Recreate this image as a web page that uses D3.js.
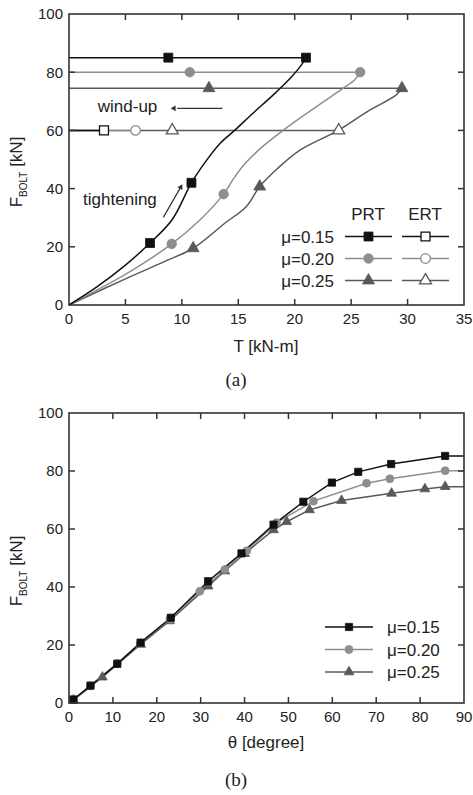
<!DOCTYPE html>
<html>
<head>
<meta charset="utf-8">
<script src="https://cdn.jsdelivr.net/npm/d3@7"></script>
<style>
  html, body { margin: 0; padding: 0; background: #fff; }
  svg { display: block; font-family: "Liberation Sans", Arial, sans-serif; }
</style>
</head>
<body>
<svg width="473" height="795"></svg>
<script>
// ---- data (a): F_BOLT vs T ----
var load15 = [[0,0],[2.5,6.3],[5,13.7],[7.18,21.3],[9.15,29.4],[10.85,42],[12.2,49.8],[13.4,55.6],[14.7,60.1],[16.3,65.9],[18.1,72.2],[19.6,77.9],[20.6,82.5],[21,85]];
var load20 = [[0,0],[2.5,5.2],[5,10.5],[9.1,21],[11.6,29.2],[13.7,38.1],[14.6,43.5],[15.6,48.6],[17.2,54.6],[19,60.1],[21.9,68.1],[24.3,74.5],[25.3,77.3],[25.8,80]];
var load25 = [[0,0],[5,9],[8.5,15],[11,19.5],[13.8,28.1],[15.7,33.8],[16.9,40.7],[18.5,47],[20.5,53.3],[23.9,60.1],[26.4,66.4],[29,72.2],[29.5,74.5]];
var prtMark15 = [[7.18,21.3],[10.85,42],[8.8,85],[21,85]];
var prtMark20 = [[9.1,21],[13.7,38.1],[10.7,80],[25.8,80]];
var prtMark25 = [[11,19.5],[16.9,40.7],[12.4,74.5],[29.5,74.5]];
var peaks = [85, 80, 74.5];
var ert15 = [[0,60],[3.1,60]];
var ert20 = [[0,60],[5.9,60]];
var ert25 = [[0,60],[9.15,60],[23.9,60]];
var ertMark15 = [[3.1,60]];
var ertMark20 = [[5.9,60]];
var ertMark25 = [[9.15,60],[23.9,60]];
var tTicks = [0,5,10,15,20,25,30,35];
var fTicks = [0,20,40,60,80,100];
var muLabels = ["\u03bc=0.15", "\u03bc=0.20", "\u03bc=0.25"];

// ---- data (b): F_BOLT vs theta ----
var th15 = [[1,1.2],[4.9,6],[11,13.5],[16.3,20.8],[23.2,29.4],[31.7,42],[39.3,51.6],[46.6,61.5],[53.4,69.4],[59.9,76],[65.9,79.7],[73.4,82.4],[85.7,85.2]];
var th20 = [[1,1.2],[4.9,5.9],[11,13.7],[16.3,20.6],[23,29],[29.8,38.5],[35.5,46],[40.5,52.5],[47.3,62.2],[55.7,69.6],[67.8,75.8],[73.1,77.3],[85.7,80.1]];
var th25 = [[1,1],[7.6,8.9],[16.3,20.2],[22.9,28.3],[31.7,40.3],[35.5,45.5],[40,51.5],[46.6,59.7],[49.6,62.5],[54.8,66.6],[62.1,69.8],[73.5,72.3],[81.1,73.8],[85.7,74.6]];
var thEnd = 90;
var thTicks = [0,10,20,30,40,50,60,70,80,90];

var colors = ["#111111", "#8e8e8e", "#595959"];
var symbols = [d3.symbolSquare, d3.symbolCircle, d3.symbolTriangle];
var symSize = [80, 72, 62];
var symSizeB = [52, 50, 42];

var svg = d3.select("svg");

function frame(g, x, y, xt, yt) {
    var w = x.range()[1] - x.range()[0], h = y.range()[0] - y.range()[1];
    var ax = g.append("g").attr("class", "axes");
    var tl = 6;
    xt.forEach(function(v) {
        if (v === x.domain()[0] || v === x.domain()[1]) return;
        ax.append("line").attr("x1", x(v)).attr("x2", x(v)).attr("y1", y.range()[0]).attr("y2", y.range()[0] - tl);
        ax.append("line").attr("x1", x(v)).attr("x2", x(v)).attr("y1", y.range()[1]).attr("y2", y.range()[1] + tl);
    });
    yt.forEach(function(v) {
        if (v === y.domain()[0] || v === y.domain()[1]) return;
        ax.append("line").attr("y1", y(v)).attr("y2", y(v)).attr("x1", x.range()[0]).attr("x2", x.range()[0] + tl);
        ax.append("line").attr("y1", y(v)).attr("y2", y(v)).attr("x1", x.range()[1]).attr("x2", x.range()[1] - tl);
    });
    ax.selectAll("line").attr("stroke", "#333").attr("stroke-width", 1.5);
    ax.append("rect").attr("x", x.range()[0]).attr("y", y.range()[1]).attr("width", w).attr("height", h)
        .attr("fill", "none").attr("stroke", "#333").attr("stroke-width", 1.6);
    g.selectAll(".xl").data(xt).enter().append("text")
        .attr("x", function(d) { return x(d); }).attr("y", y.range()[0] + 19)
        .attr("text-anchor", "middle").attr("font-size", 15).attr("fill", "#222")
        .text(function(d) { return d; });
    g.selectAll(".yl").data(yt).enter().append("text")
        .attr("x", x.range()[0] - 6).attr("y", function(d) { return y(d); }).attr("dy", "0.36em")
        .attr("text-anchor", "end").attr("font-size", 15).attr("fill", "#222")
        .text(function(d) { return d; });
}

function yTitle(g, cy) {
    var t = g.append("text").attr("transform", "translate(22," + cy + ") rotate(-90)")
        .attr("text-anchor", "middle").attr("font-size", 17).attr("fill", "#222");
    t.append("tspan").text("F");
    t.append("tspan").attr("font-size", 10).attr("dy", 5).text("BOLT");
    t.append("tspan").attr("dy", -5).text(" [kN]");
}

function markers(g, pts, x, y, i, open, sizes) {
    g.selectAll(null).data(pts).enter().append("path")
        .attr("d", d3.symbol().type(symbols[i]).size(sizes[i]))
        .attr("transform", function(d) { return "translate(" + x(d[0]) + "," + y(d[1]) + ")"; })
        .attr("fill", open ? "#fff" : colors[i])
        .attr("stroke", colors[i]).attr("stroke-width", open ? 1.3 : 0.8);
}

// ================= (a) =================
var xa = d3.scaleLinear().domain([0, 35]).range([69, 464]);
var ya = d3.scaleLinear().domain([0, 100]).range([305, 14]);
var ga = svg.append("g");
var smooth = d3.line().x(function(d) { return xa(d[0]); }).y(function(d) { return ya(d[1]); }).curve(d3.curveCatmullRom.alpha(0.5));
var straight = d3.line().x(function(d) { return xa(d[0]); }).y(function(d) { return ya(d[1]); });

var loads = [load15, load20, load25];
var prtMarks = [prtMark15, prtMark20, prtMark25];
var erts = [ert15, ert20, ert25];
var ertMarks = [ertMark15, ertMark20, ertMark25];

[2, 1, 0].forEach(function(i) {
    ga.append("path").attr("d", straight(erts[i])).attr("fill", "none").attr("stroke", colors[i]).attr("stroke-width", 1.5);
});
[2, 1, 0].forEach(function(i) {
    var peak = loads[i][loads[i].length - 1];
    ga.append("path").attr("d", smooth(loads[i])).attr("fill", "none").attr("stroke", colors[i]).attr("stroke-width", 1.5);
    ga.append("path").attr("d", straight([peak, [0, peaks[i]]])).attr("fill", "none").attr("stroke", colors[i]).attr("stroke-width", 1.5);
});
[2, 1, 0].forEach(function(i) {
    markers(ga, prtMarks[i], xa, ya, i, false, symSize);
    markers(ga, ertMarks[i], xa, ya, i, true, symSize);
});

frame(ga, xa, ya, tTicks, fTicks);
yTitle(ga, 172);
ga.append("text").attr("x", 266).attr("y", 352).attr("text-anchor", "middle").attr("font-size", 17).attr("fill", "#222").text("T [kN-m]");
ga.append("text").attr("x", 236).attr("y", 386).attr("text-anchor", "middle").attr("font-size", 19)
    .attr("font-family", "'Liberation Serif', 'Times New Roman', serif").attr("fill", "#222").text("(a)");

// annotations
ga.append("text").attr("x", xa(2.55)).attr("y", ya(66.2)).attr("font-size", 17).attr("fill", "#222").text("wind-up");
ga.append("line").attr("x1", xa(13.6)).attr("x2", xa(9.6)).attr("y1", ya(67.6)).attr("y2", ya(67.6)).attr("stroke", "#333").attr("stroke-width", 1.2);
ga.append("path").attr("d", d3.symbol().type(d3.symbolTriangle).size(14))
    .attr("transform", "translate(" + xa(9.3) + "," + ya(67.6) + ") rotate(-90)").attr("fill", "#333");
ga.append("text").attr("x", xa(1.25)).attr("y", ya(34.3)).attr("font-size", 17).attr("fill", "#222").text("tightening");
var a1 = [xa(8.36), ya(30.1)], a2 = [xa(9.9), ya(40.5)];
ga.append("line").attr("x1", a1[0]).attr("y1", a1[1]).attr("x2", a2[0]).attr("y2", a2[1]).attr("stroke", "#333").attr("stroke-width", 1.2);
var ang = Math.atan2(a2[1] - a1[1], a2[0] - a1[0]) * 180 / Math.PI + 90;
ga.append("path").attr("d", d3.symbol().type(d3.symbolTriangle).size(14))
    .attr("transform", "translate(" + a2[0] + "," + a2[1] + ") rotate(" + ang + ")").attr("fill", "#333");

// legend (a)
var lg = ga.append("g");
lg.append("text").attr("x", 368).attr("y", 220).attr("text-anchor", "middle").attr("font-size", 17).attr("fill", "#222").text("PRT");
lg.append("text").attr("x", 425).attr("y", 220).attr("text-anchor", "middle").attr("font-size", 17).attr("fill", "#222").text("ERT");
muLabels.forEach(function(lab, i) {
    var cy = 236.5 + i * 22;
    lg.append("text").attr("x", 334).attr("y", cy).attr("dy", "0.36em").attr("text-anchor", "end").attr("font-size", 17).attr("fill", "#222").text(lab);
    [[345, 392, false], [402, 449, true]].forEach(function(s) {
        lg.append("line").attr("x1", s[0]).attr("x2", s[1]).attr("y1", cy).attr("y2", cy).attr("stroke", colors[i]).attr("stroke-width", 1.5);
        lg.append("path").attr("d", d3.symbol().type(symbols[i]).size(symSize[i]))
            .attr("transform", "translate(" + ((s[0] + s[1]) / 2) + "," + cy + ")")
            .attr("fill", s[2] ? "#fff" : colors[i]).attr("stroke", colors[i]).attr("stroke-width", s[2] ? 1.3 : 0.8);
    });
});

// ================= (b) =================
var xb = d3.scaleLinear().domain([0, 90]).range([69, 464]);
var yb = d3.scaleLinear().domain([0, 100]).range([703, 413]);
var gb = svg.append("g");
var lineB = d3.line().x(function(d) { return xb(d[0]); }).y(function(d) { return yb(d[1]); });
var ths = [th15, th20, th25];
[2, 1, 0].forEach(function(i) {
    var pts = ths[i].concat([[thEnd, ths[i][ths[i].length - 1][1]]]);
    gb.append("path").attr("d", lineB(pts)).attr("fill", "none").attr("stroke", colors[i]).attr("stroke-width", 1.5);
});
[2, 1, 0].forEach(function(i) {
    markers(gb, ths[i], xb, yb, i, false, symSizeB);
});
frame(gb, xb, yb, thTicks, fTicks);
yTitle(gb, 571);
gb.append("text").attr("x", 266).attr("y", 748).attr("text-anchor", "middle").attr("font-size", 17).attr("fill", "#222").text("\u03b8 [degree]");
gb.append("text").attr("x", 236).attr("y", 786).attr("text-anchor", "middle").attr("font-size", 19)
    .attr("font-family", "'Liberation Serif', 'Times New Roman', serif").attr("fill", "#222").text("(b)");

var lgb = gb.append("g");
muLabels.forEach(function(lab, i) {
    var cy = 627 + i * 22.5;
    lgb.append("line").attr("x1", 325).attr("x2", 373).attr("y1", cy).attr("y2", cy).attr("stroke", colors[i]).attr("stroke-width", 1.5);
    lgb.append("path").attr("d", d3.symbol().type(symbols[i]).size(symSizeB[i]))
        .attr("transform", "translate(349," + cy + ")").attr("fill", colors[i]).attr("stroke", colors[i]).attr("stroke-width", 0.8);
    lgb.append("text").attr("x", 387).attr("y", cy).attr("dy", "0.36em").attr("font-size", 17).attr("fill", "#222").text(lab);
});
</script>
</body>
</html>
